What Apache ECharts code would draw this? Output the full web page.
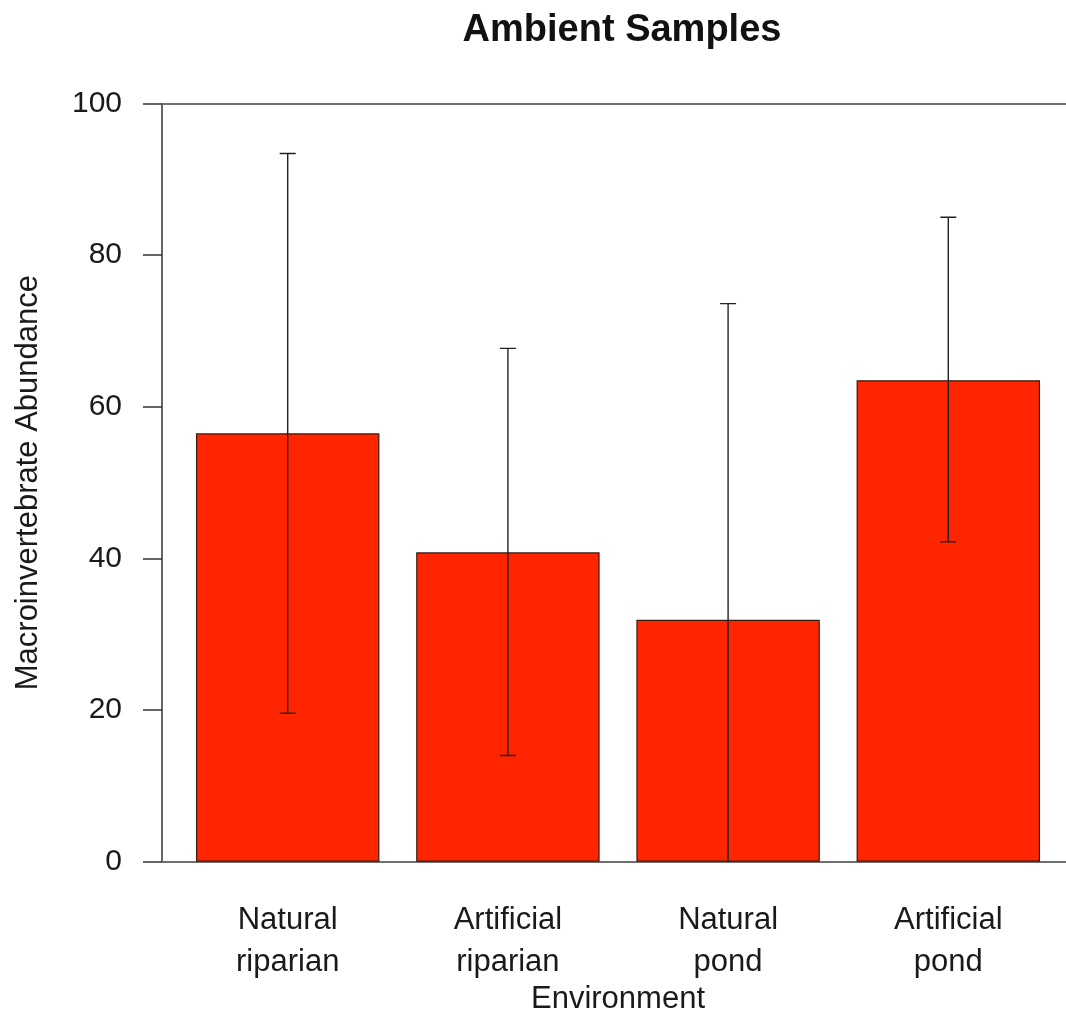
<!DOCTYPE html>
<html>
<head>
<meta charset="utf-8">
<script src="https://cdn.jsdelivr.net/npm/echarts@6/dist/echarts.min.js"></script>
<style>html,body{margin:0;padding:0;background:#fff}#c{width:1066px;height:1017px}</style>
</head>
<body>
<div id="c"></div>
<script>
const categories = ['Natural\nriparian', 'Artificial\nriparian', 'Natural\npond', 'Artificial\npond'];
const means = [56.5, 40.8, 31.9, 63.5];
const upper = [93.4, 67.7, 73.6, 85.0];
const lower = [19.6, 14.0, -9.8, 42.2];
const yTicks = [0, 20, 40, 60, 80, 100];

const FONT = '"Liberation Sans", Arial, Helvetica, sans-serif';
const chart = echarts.init(document.getElementById('c'), null, {renderer: 'canvas'});

const gTop = 103.5, gHeight = 758.2;
const option = {
  animation: false,
  backgroundColor: '#ffffff',
  title: {
    text: 'Ambient Samples',
    left: 617,
    textAlign: 'center',
    top: 7,
    textStyle: {fontFamily: FONT, fontSize: 38, fontWeight: 'bold', color: '#111'}
  },
  grid: [
    {left: 162, top: gTop, width: 912, height: gHeight, containLabel: false, outerBoundsMode: 'none'},
    {left: 177.6, top: gTop, width: 880.8, height: gHeight, containLabel: false, outerBoundsMode: 'none'}
  ],
  xAxis: [
    {gridIndex: 0, type: 'value', min: 0, max: 1, position: 'bottom',
     axisLine: {show: true, lineStyle: {color: '#707070', width: 2}},
     axisTick: {show: false}, axisLabel: {show: false}, splitLine: {show: false}},
    {gridIndex: 0, type: 'value', min: 0, max: 1, position: 'top',
     axisLine: {show: true, lineStyle: {color: '#707070', width: 2}},
     axisTick: {show: false}, axisLabel: {show: false}, splitLine: {show: false}},
    {gridIndex: 1, type: 'category', data: categories, position: 'bottom',
     axisLine: {show: false}, axisTick: {show: false}, splitLine: {show: false},
     axisLabel: {fontFamily: FONT, fontSize: 31, lineHeight: 42, color: '#1a1a1a', margin: 38, interval: 0},
     name: 'Environment', nameLocation: 'middle', nameGap: 122, nameMoveOverlap: false,
     nameTextStyle: {fontFamily: FONT, fontSize: 31, color: '#1a1a1a'}}
  ],
  yAxis: [
    {gridIndex: 0, type: 'value', min: 0, max: 100, interval: 20,
     axisLine: {show: true, lineStyle: {color: '#333', width: 1.5}},
     axisTick: {show: true, length: 19, lineStyle: {color: '#333', width: 1.5}},
     axisLabel: {fontFamily: FONT, fontSize: 30, color: '#1a1a1a', margin: 40,
                 formatter: v => yTicks.indexOf(v) >= 0 ? String(v) : ''},
     splitLine: {show: false},
     name: 'Macroinvertebrate Abundance', nameLocation: 'middle', nameGap: 118, nameRotate: 90,
     nameMoveOverlap: false,
     nameTextStyle: {fontFamily: FONT, fontSize: 31, color: '#1a1a1a'}},
    {gridIndex: 1, type: 'value', min: 0, max: 100, show: false}
  ],
  series: [
    {
      type: 'bar', xAxisIndex: 2, yAxisIndex: 1,
      data: means, barWidth: '83.3%',
      itemStyle: {color: '#ff2500', borderColor: '#3a1a10', borderWidth: 1.2}
    },
    {
      type: 'custom', xAxisIndex: 2, yAxisIndex: 1, clip: true, z: 5,
      data: categories.map((c, i) => [i, lower[i], upper[i]]),
      encode: {x: 0, y: [1, 2]},
      renderItem: function (params, api) {
        const i = api.value(0);
        const lo = api.coord([i, api.value(1)]);
        const hi = api.coord([i, api.value(2)]);
        const w = 8;
        const st = {stroke: '#222', lineWidth: 1.4};
        return {
          type: 'group',
          children: [
            {type: 'line', shape: {x1: hi[0], y1: hi[1], x2: lo[0], y2: lo[1]}, style: st},
            {type: 'line', shape: {x1: hi[0] - w, y1: hi[1], x2: hi[0] + w, y2: hi[1]}, style: st},
            {type: 'line', shape: {x1: lo[0] - w, y1: lo[1], x2: lo[0] + w, y2: lo[1]}, style: st}
          ]
        };
      }
    }
  ]
};
chart.setOption(option);
</script>
</body>
</html>
